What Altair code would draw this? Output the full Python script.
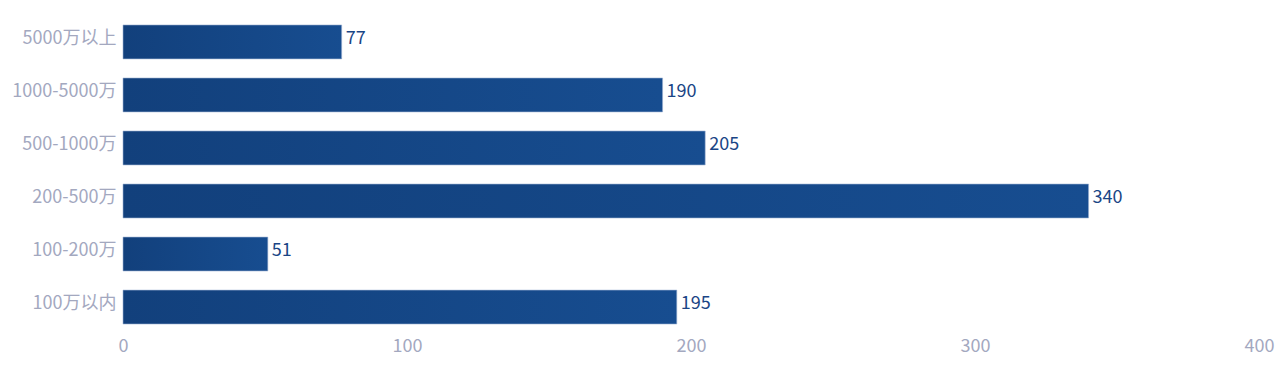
import altair as alt
import pandas as pd

categories = ["5000万以上", "1000-5000万", "500-1000万", "200-500万", "100-200万", "100万以内"]
values = [77, 190, 205, 340, 51, 195]

df = pd.DataFrame({"cat": categories, "val": values})

font = "Noto Sans CJK SC"

y_enc = alt.Y("cat:N", sort=categories, title=None,
              scale=alt.Scale(paddingInner=0.36, paddingOuter=0.15),
              axis=alt.Axis(domain=False, ticks=False, labelFont=font, labelFontSize=18,
                            labelColor="#a3a8bf", labelPadding=7, labelOffset=-3))
x_enc = alt.X("val:Q", title=None,
              scale=alt.Scale(domain=[0, 400]),
              axis=alt.Axis(values=[0, 100, 200, 300, 400], domain=False, ticks=False, grid=False,
                            labelFlush=False,
                            labelFont=font, labelFontSize=18, labelColor="#a3a8bf", labelPadding=5))

bars = alt.Chart(df).mark_bar(
    color=alt.Gradient(gradient="linear", x1=0, x2=1, y1=0, y2=0,
                       stops=[alt.GradientStop(offset=0, color="#12407c"),
                              alt.GradientStop(offset=1, color="#174d90")]),
    stroke="#9fb3d3", strokeWidth=0.6
).encode(x=x_enc, y=y_enc)

labels = alt.Chart(df).mark_text(
    align="left", baseline="middle", dx=4, dy=-3, font=font, fontSize=18, color="#1a4585"
).encode(x="val:Q", y=alt.Y("cat:N", sort=categories), text="val:Q")

chart = (bars + labels).properties(
    width=1136, height=315,
    background="white",
    autosize=alt.AutoSizeParams(type="none"),
    padding={"left": 123, "top": 17, "right": 21, "bottom": 50},
).configure_view(strokeWidth=0)

chart.save("out.html", embed_options={"renderer": "svg", "actions": False})
